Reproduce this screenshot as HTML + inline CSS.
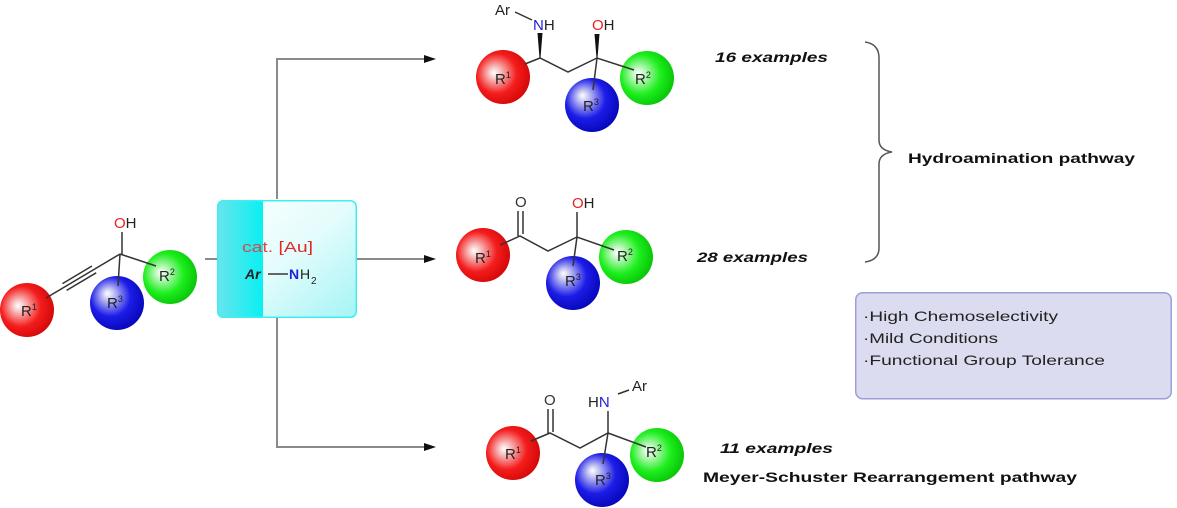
<!DOCTYPE html>
<html><head><meta charset="utf-8"><style>
html,body{margin:0;padding:0;background:#fff;}
svg{display:block;}
text{font-family:"Liberation Sans",Arial,sans-serif;}
</style></head><body>
<svg width="1177" height="508" viewBox="0 0 1177 508" xmlns="http://www.w3.org/2000/svg">
<defs>
<radialGradient id="gr" cx="0.42" cy="0.45" r="0.62" fx="0.33" fy="0.42">
<stop offset="0" stop-color="#ffffff"/><stop offset="0.18" stop-color="#f8c0c0"/><stop offset="0.6" stop-color="#f41c1c"/><stop offset="1" stop-color="#d00606"/></radialGradient>
<radialGradient id="gb" cx="0.42" cy="0.42" r="0.62" fx="0.32" fy="0.32">
<stop offset="0" stop-color="#ffffff"/><stop offset="0.18" stop-color="#c0c0f4"/><stop offset="0.6" stop-color="#1c1ce8"/><stop offset="1" stop-color="#0606b8"/></radialGradient>
<radialGradient id="gg" cx="0.42" cy="0.45" r="0.62" fx="0.33" fy="0.42">
<stop offset="0" stop-color="#ffffff"/><stop offset="0.18" stop-color="#c0f8c0"/><stop offset="0.6" stop-color="#1cee1c"/><stop offset="1" stop-color="#06c006"/></radialGradient>
<linearGradient id="cyL" x1="0" y1="0" x2="1" y2="0">
<stop offset="0" stop-color="#6ae4ec"/><stop offset="1" stop-color="#08f0f2"/></linearGradient>
<linearGradient id="cyR" x1="0" y1="0" x2="1" y2="1">
<stop offset="0" stop-color="#ffffff"/><stop offset="0.5" stop-color="#e4fcfc"/><stop offset="1" stop-color="#a4f4f6"/></linearGradient>
</defs>

<!-- arrows -->
<g stroke="#8a8a8a" stroke-width="2" fill="none">
<path d="M277,199 V59 H426"/>
<path d="M357,259 H426"/>
<path d="M277,318 V447 H426"/>
<path d="M205,259 H218"/>
</g>
<g fill="#111">
<polygon points="424,55 436,59 424,63"/>
<polygon points="424,255 436,259 424,263"/>
<polygon points="424,443 436,447 424,451"/>
</g>

<!-- catalyst box -->
<rect x="217" y="200" width="140" height="118" rx="6" fill="url(#cyR)"/>
<path d="M223,200 H263 V318 H223 A6,6 0 0 1 217,312 V206 A6,6 0 0 1 223,200 Z" fill="url(#cyL)"/>
<rect x="217.75" y="200.75" width="138.5" height="116.5" rx="6" fill="none" stroke="#40eef0" stroke-width="1.5"/>
<text x="242" y="252" font-size="15" fill="#e02828" textLength="71" lengthAdjust="spacingAndGlyphs"><tspan fill="#d84848">cat.</tspan> [Au]</text>
<text x="245" y="279" font-size="14" font-style="italic" font-weight="bold" fill="#222">Ar</text>
<line x1="268" y1="274" x2="288" y2="274" stroke="#666" stroke-width="2"/>
<text x="289" y="279" font-size="14" font-weight="bold" fill="#2020e0">N</text>
<text x="300" y="279" font-size="14" fill="#222">H</text>
<text x="311" y="284" font-size="10" fill="#222">2</text>

<!-- starting material -->
<circle cx="27" cy="310" r="27" fill="url(#gr)"/>
<circle cx="117" cy="303" r="27" fill="url(#gb)"/>
<circle cx="170" cy="277" r="27" fill="url(#gg)"/>
<g stroke="#333" stroke-width="1.5" fill="none">
<line x1="120" y1="254" x2="46" y2="298"/>
<line x1="92" y1="266" x2="62.5" y2="283.6"/>
<line x1="96.2" y1="272.8" x2="66.6" y2="290.4"/>
<line x1="122" y1="232" x2="122" y2="254"/>
<line x1="120" y1="254" x2="156" y2="266"/>
<line x1="120" y1="254" x2="118" y2="286"/>
</g>
<text x="114" y="228" font-size="15"><tspan fill="#e82020">O</tspan><tspan fill="#222">H</tspan></text>
<text x="21" y="316" font-size="15" fill="#222">R<tspan font-size="9" dy="-6">1</tspan></text>
<text x="107" y="308" font-size="15" fill="#222">R<tspan font-size="9" dy="-6">3</tspan></text>
<text x="159" y="281" font-size="15" fill="#222">R<tspan font-size="9" dy="-6">2</tspan></text>

<!-- product 1 -->
<circle cx="503" cy="77" r="27" fill="url(#gr)"/>
<circle cx="592" cy="105" r="27" fill="url(#gb)"/>
<circle cx="647" cy="78" r="27" fill="url(#gg)"/>
<g stroke="#333" stroke-width="1.5" fill="none">
<polyline points="525,64 540,58 568,72 597,58 634,70"/>
<line x1="597" y1="58" x2="593" y2="90"/>
<line x1="515" y1="12" x2="532" y2="20"/>
</g>
<polygon points="537.5,33 542.5,33 540.5,58 539.5,58" fill="#111"/>
<polygon points="594.5,34 599.5,34 597.5,58 596.5,58" fill="#111"/>
<text x="495" y="15" font-size="15" fill="#222">Ar</text>
<text x="533" y="30" font-size="15"><tspan fill="#2020e0">N</tspan><tspan fill="#222">H</tspan></text>
<text x="592" y="30" font-size="15"><tspan fill="#e82020">O</tspan><tspan fill="#222">H</tspan></text>
<text x="495" y="84" font-size="15" fill="#222">R<tspan font-size="9" dy="-6">1</tspan></text>
<text x="583" y="111" font-size="15" fill="#222">R<tspan font-size="9" dy="-6">3</tspan></text>
<text x="635" y="84" font-size="15" fill="#222">R<tspan font-size="9" dy="-6">2</tspan></text>

<!-- product 2 -->
<circle cx="483" cy="255" r="27" fill="url(#gr)"/>
<circle cx="573" cy="283" r="27" fill="url(#gb)"/>
<circle cx="626" cy="257" r="27" fill="url(#gg)"/>
<g stroke="#333" stroke-width="1.5" fill="none">
<polyline points="500,245 520,236 548,251 577,237 614,250"/>
<line x1="577" y1="237" x2="573" y2="266"/>
<line x1="577" y1="212" x2="577" y2="237"/>
<line x1="518" y1="211" x2="518" y2="236"/>
<line x1="523" y1="211" x2="523" y2="234"/>
</g>
<text x="515" y="207" font-size="15" fill="#333">O</text>
<text x="572" y="208" font-size="15"><tspan fill="#e82020">O</tspan><tspan fill="#222">H</tspan></text>
<text x="475" y="263" font-size="15" fill="#222">R<tspan font-size="9" dy="-6">1</tspan></text>
<text x="565" y="286" font-size="15" fill="#222">R<tspan font-size="9" dy="-6">3</tspan></text>
<text x="617" y="261" font-size="15" fill="#222">R<tspan font-size="9" dy="-6">2</tspan></text>

<!-- product 3 -->
<circle cx="513" cy="453" r="27" fill="url(#gr)"/>
<circle cx="602" cy="480" r="27" fill="url(#gb)"/>
<circle cx="657" cy="455" r="27" fill="url(#gg)"/>
<g stroke="#333" stroke-width="1.5" fill="none">
<polyline points="531,441 550,433 580,448 608,433 646,447"/>
<line x1="608" y1="433" x2="603" y2="464"/>
<line x1="608" y1="411" x2="608" y2="433"/>
<line x1="548" y1="409" x2="548" y2="434"/>
<line x1="553" y1="409" x2="553" y2="432"/>
<line x1="618" y1="394" x2="629" y2="390"/>
</g>
<text x="544" y="405" font-size="15" fill="#333">O</text>
<text x="588" y="407" font-size="15"><tspan fill="#222">H</tspan><tspan fill="#2020e0">N</tspan></text>
<text x="632" y="391" font-size="15" fill="#222">Ar</text>
<text x="505" y="459" font-size="15" fill="#222">R<tspan font-size="9" dy="-6">1</tspan></text>
<text x="595" y="485" font-size="15" fill="#222">R<tspan font-size="9" dy="-6">3</tspan></text>
<text x="646" y="457" font-size="15" fill="#222">R<tspan font-size="9" dy="-6">2</tspan></text>

<!-- right side labels -->
<text x="715" y="62" font-size="14" font-weight="bold" font-style="italic" fill="#111" textLength="113" lengthAdjust="spacingAndGlyphs">16 examples</text>
<text x="697" y="262" font-size="14" font-weight="bold" font-style="italic" fill="#111" textLength="111" lengthAdjust="spacingAndGlyphs">28 examples</text>
<text x="720" y="453" font-size="14" font-weight="bold" font-style="italic" fill="#111" textLength="113" lengthAdjust="spacingAndGlyphs">11 examples</text>
<text x="908" y="163" font-size="14" font-weight="bold" fill="#111" textLength="227" lengthAdjust="spacingAndGlyphs">Hydroamination pathway</text>
<text x="703" y="482" font-size="14" font-weight="bold" fill="#111" textLength="374" lengthAdjust="spacingAndGlyphs">Meyer-Schuster Rearrangement pathway</text>

<!-- brace -->
<path d="M865,42 Q879,44 879,58 V140 Q879,150 892,152 Q879,154 879,164 V248 Q879,260 865,262" fill="none" stroke="#555" stroke-width="1.5"/>

<!-- features box -->
<rect x="855.75" y="292.75" width="315.5" height="106" rx="7" fill="#dcdcf0" stroke="#9e9edc" stroke-width="1.5"/>
<text x="863" y="321" font-size="14" fill="#222" textLength="195" lengthAdjust="spacingAndGlyphs">·High Chemoselectivity</text>
<text x="863" y="343" font-size="14" fill="#222" textLength="135" lengthAdjust="spacingAndGlyphs">·Mild Conditions</text>
<text x="863" y="365" font-size="14" fill="#222" textLength="242" lengthAdjust="spacingAndGlyphs">·Functional Group Tolerance</text>
</svg>
</body></html>
